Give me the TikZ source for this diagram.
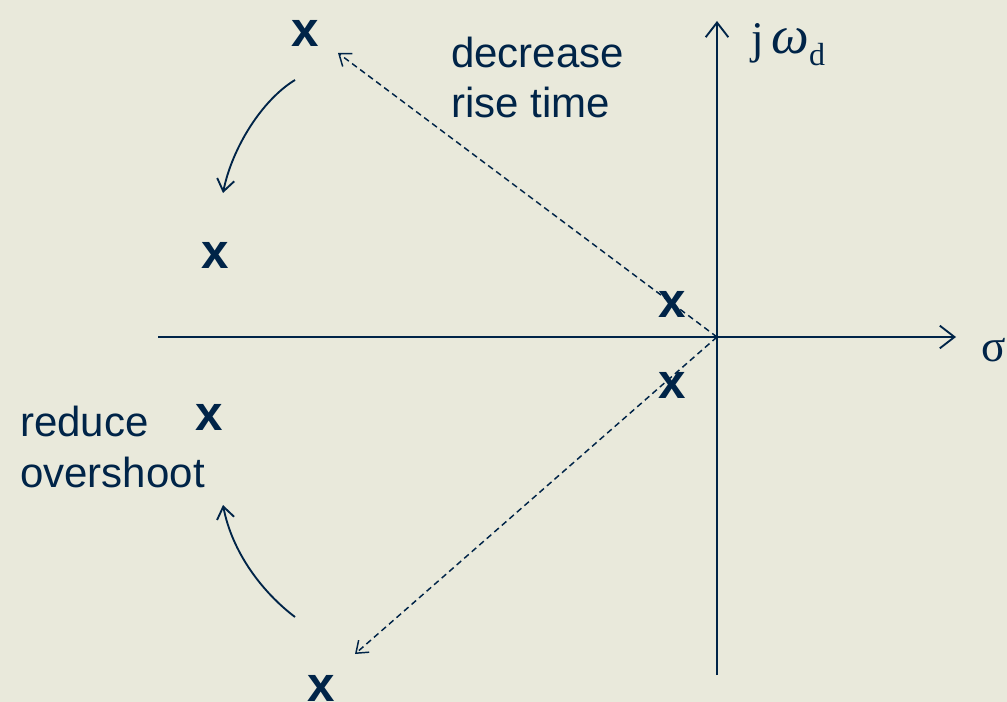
\documentclass[tikz,border=0pt]{standalone}
\usepackage{fontspec}
\setmainfont{Liberation Sans}
\newfontfamily\serifgreek{Liberation Serif}
\usetikzlibrary{arrows.meta}
\definecolor{bgc}{RGB}{233,233,219}
\definecolor{ink}{RGB}{0,36,72}
\begin{document}
\begin{tikzpicture}[x=0.75pt,y=-0.75pt,
  axis/.style={draw=ink,line width=1.4pt,-{Straight Barb[length=11pt,width=17pt,line width=1.4pt]}},
  dasharrow/.style={draw=ink,line width=1.1pt,dash pattern=on 4.5pt off 3pt,-{Straight Barb[length=8pt,width=12pt,line width=1.1pt]}},
  curvearrow/.style={draw=ink,line width=1.4pt,-{Straight Barb[length=9pt,width=13pt,line width=1.4pt]}},
  pole/.style={text=ink,font=\fontsize{37}{40}\selectfont\bfseries,inner sep=0pt,anchor=base},
  label/.style={text=ink,font=\fontsize{31.5}{38}\selectfont,inner sep=0pt,align=left,anchor=base west},
  mathlabel/.style={text=ink,font=\fontsize{34}{38}\selectfont\serifgreek,inner sep=0pt,anchor=base west}]
\fill[bgc] (0,0) rectangle (1007,702);
\useasboundingbox (0,0) rectangle (1007,702);
% axes
\coordinate (origin) at (717,337);
\coordinate (xstart) at (158,337);
\coordinate (xend) at (956,337);
\coordinate (ystart) at (717,675);
\coordinate (yend) at (717,21);
\draw[axis] (xstart) -- (xend);
\draw[axis] (ystart) -- (yend);
\node[mathlabel] (sigma) at (981,362) {σ};
\node[mathlabel] (jw) at (751,54) {j\,{\itshape\fontsize{40}{40}\selectfont ω}\raisebox{-0.25em}{\fontsize{24}{26}\selectfont d}};
% poles
\node[pole] (p1) at (305,47) {x};
\node[pole] (p2) at (215,269) {x};
\node[pole] (p3) at (672,318) {x};
\node[pole] (p4) at (672,398) {x};
\node[pole] (p5) at (209,430) {x};
\node[pole] (p6) at (321,701) {x};
% labels
\node[label] (rise) at (451,118) {decrease\\rise time};
\node[label] (over) at (20,487) {reduce\\overshoot};
% dashed arrows
\coordinate (dtop) at (338,53);
\coordinate (dbot) at (355,654);
\draw[dasharrow] (origin) -- (dtop);
\draw[dasharrow] (origin) -- (dbot);
% curved arrows
\coordinate (c1s) at (295,80);
\coordinate (c1e) at (223,193);
\coordinate (c2s) at (295,617);
\coordinate (c2e) at (223,505);
\draw[curvearrow] (c1s) .. controls (262,100) and (232,148) .. (c1e);
\draw[curvearrow] (c2s) .. controls (262,592) and (232,552) .. (c2e);
\end{tikzpicture}
\end{document}
